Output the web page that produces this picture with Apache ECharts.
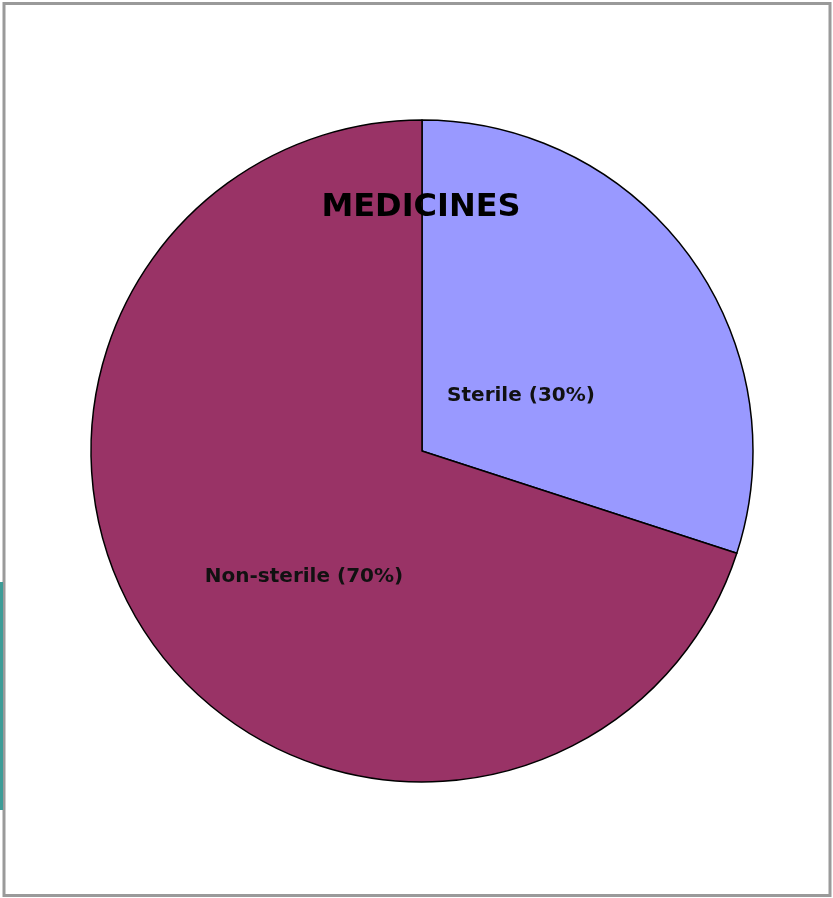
<!DOCTYPE html>
<html>
<head>
<meta charset="utf-8">
<script src="https://cdn.jsdelivr.net/npm/echarts@6/dist/echarts.min.js"></script>
<style>
  html, body { margin: 0; padding: 0; background: #fff; }
  #chart { width: 833px; height: 898px; }
</style>
</head>
<body>
<div id="chart"></div>
<script>
// data
var categories = ['Sterile', 'Non-sterile'];
var values = [30, 70];
var colors = ['#9999FF', '#993366'];
var labelPos = [[521, 396], [304, 577]];
var titleText = 'MEDICINES';

var chart = echarts.init(document.getElementById('chart'));

var labels = categories.map(function (c, i) {
    return {
        type: 'text',
        x: labelPos[i][0],
        y: labelPos[i][1],
        z: 10,
        style: {
            text: c + ' (' + values[i] + '%)',
            font: 'bold 20px "DejaVu Sans"',
            fill: '#111',
            align: 'center',
            verticalAlign: 'middle'
        }
    };
});

var option = {
    animation: false,
    backgroundColor: '#fff',
    series: [{
        type: 'pie',
        center: [422, 451],
        radius: 331,
        startAngle: 90,
        clockwise: true,
        label: { show: false },
        labelLine: { show: false },
        emphasis: { disabled: true },
        itemStyle: { borderColor: '#000', borderWidth: 1.5 },
        data: categories.map(function (c, i) {
            return { name: c, value: values[i], itemStyle: { color: colors[i] } };
        })
    }],
    graphic: [
        // outer frame
        { type: 'rect', shape: { x: 4, y: 3.5, width: 826, height: 892 },
          style: { fill: null, stroke: '#9a9a9a', lineWidth: 3 }, z: 1 },
        { type: 'rect', shape: { x: 0, y: 582, width: 3, height: 228 },
          style: { fill: '#3d9c97' }, z: 1 },
        { type: 'text', x: 421, y: 208, z: 10,
          style: { text: titleText, font: 'bold 32px "DejaVu Sans"', fill: '#000',
                   align: 'center', verticalAlign: 'middle' } }
    ].concat(labels)
};

chart.setOption(option);
</script>
</body>
</html>
